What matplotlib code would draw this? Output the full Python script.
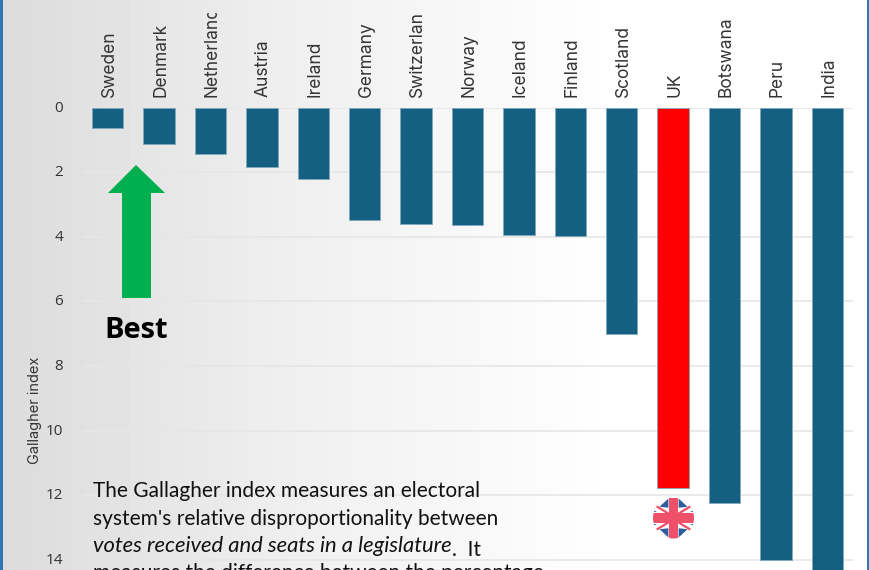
import numpy as np
import matplotlib
matplotlib.use('Agg')
import matplotlib.pyplot as plt
from matplotlib.patches import Circle, Polygon, Rectangle
from matplotlib.transforms import Bbox, ScaledTranslation

countries = ['Sweden', 'Denmark', 'Netherlands', 'Austria', 'Ireland', 'Germany', 'Switzerland',
             'Norway', 'Iceland', 'Finland', 'Scotland', 'UK', 'Botswana', 'Peru', 'India']
gallagher = [0.62, 1.13, 1.45, 1.85, 2.22, 3.47, 3.6, 3.65, 3.94, 3.98, 7.02, 11.79, 12.25, 14.0, 14.6]
y_ticks = [0, 2, 4, 6, 8, 10, 12, 14]
note_line1 = 'The Gallagher index measures an electoral'
note_line2 = "system's relative disproportionality between"
note_line3a = 'votes received and seats in a legislature'
note_line3b = '.  It'
note_line4 = 'measures the difference between the percentage'

W, H = 870, 570
fig = plt.figure(figsize=(W / 100, H / 100), dpi=100)

# fond en dégradé gris -> blanc
bg = fig.add_axes([0, 0, 1, 1], zorder=0)
grad = np.interp(np.arange(W), [0, 300, 620, W], [0.86, 0.94, 1.0, 1.0])
bg.imshow(grad[np.newaxis, :], cmap='gray', vmin=0, vmax=1, aspect='auto', extent=[0, W, H, 0])
bg.set_xlim(0, W)
bg.set_ylim(H, 0)
bg.axis('off')

# axes du graphique
left, right, top = 82, 853, 107.5
px_per_unit = 32.3
ax = fig.add_axes([left / W, 0, (right - left) / W, (H - top) / H], zorder=1)
ax.patch.set_alpha(0)
colors = ['#ff0000' if c == 'UK' else '#156082' for c in countries]
ax.bar(range(len(countries)), gallagher, width=0.61, color=colors, edgecolor='#7fa9bb', linewidth=0.6, zorder=3)
ax.set_xlim(-0.5, len(countries) - 0.5)
ax.set_ylim((H - top) / px_per_unit, 0)
ax.set_yticks(y_ticks)
ax.set_xticks(range(len(countries)))
ax.set_xticklabels(countries, rotation=90, fontsize=12.5, family='Inter', color='#333333')
ax.xaxis.tick_top()
ax.tick_params(axis='x', length=0, pad=7.5)
ax.tick_params(axis='y', length=0, pad=13.5, labelsize=11, labelcolor='#333333')
up = ScaledTranslation(0, 1.5 / 100, fig.dpi_scale_trans)
right_shift = ScaledTranslation(1.5 / 100, 0, fig.dpi_scale_trans)
for lab in ax.get_yticklabels():
    lab.set_family('Open Sans')
    lab.set_transform(lab.get_transform() + up)

# les étiquettes sont coupées en haut
clip = Bbox([[0, 0], [W, H - 13]])
for lab in ax.get_xticklabels():
    lab.set_transform(lab.get_transform() + right_shift)
    lab.set_clip_box(clip)
    lab.set_clip_on(True)
ax.grid(axis='y', color='#e6e6e6', linewidth=1.2, zorder=0)
ax.grid(axis='x', visible=False)
for s in ax.spines.values():
    s.set_visible(False)

fig.text(35 / W, 1 - 410 / H, 'Gallagher index', rotation=90, ha='center', va='center',
         fontsize=10.5, family='Inter', color='#333333', zorder=5)

# calque en pixels : flèche, drapeau, bordures
ov = fig.add_axes([0, 0, 1, 1], zorder=2)
ov.set_xlim(0, W)
ov.set_ylim(H, 0)
ov.axis('off')
ov.add_patch(Polygon([(136, 165), (165, 193), (151, 193), (151, 298), (122, 298), (122, 193), (108, 193)],
                     closed=True, color='#00b050', lw=0))
ov.text(136, 330, 'Best', ha='center', va='center', fontsize=21, fontweight='bold', family='Open Sans', color='black')

cx, cy, r = 673.5, 518, 20.5
disc = Circle((cx, cy), r, transform=ov.transData)
ov.add_patch(Circle((cx, cy), r, color='white', lw=0))
blues = [[(-0.68, -0.55), (-0.25, -0.95), (-0.25, -0.5)], [(0.68, -0.55), (0.25, -0.95), (0.25, -0.5)],
         [(-0.68, 0.55), (-0.25, 0.95), (-0.25, 0.5)], [(0.68, 0.55), (0.25, 0.95), (0.25, 0.5)],
         [(-0.98, -0.38), (-0.98, -0.28), (-0.8, -0.28)], [(0.98, -0.38), (0.98, -0.28), (0.8, -0.28)],
         [(-0.98, 0.38), (-0.98, 0.28), (-0.8, 0.28)], [(0.98, 0.38), (0.98, 0.28), (0.8, 0.28)]]
for tri in blues:
    p = Polygon([(cx + a * r, cy + b * r) for a, b in tri], closed=True, color='#2f5d9e', lw=0)
    ov.add_patch(p)
    p.set_clip_path(disc)
for sx, sy in [(-1, -1), (1, -1), (-1, 1), (1, 1)]:
    ln, = ov.plot([cx + sx * 0.25 * r, cx + sx * 0.88 * r], [cy + sy * 0.22 * r, cy + sy * 0.6 * r],
                  color='#ef5069', lw=1.6, solid_capstyle='butt')
    ln.set_clip_path(disc)
for rect in [Rectangle((cx - 0.22 * r, cy - r), 0.44 * r, 2 * r), Rectangle((cx - r, cy - 0.22 * r), 2 * r, 0.44 * r)]:
    rect.set_color('#ef5069')
    rect.set_linewidth(0)
    ov.add_patch(rect)
    rect.set_clip_path(disc)

note_kw = dict(fontsize=15, family='Lato', color='#111111', va='baseline', ha='left')
ov.text(93, 497, note_line1, **note_kw)
ov.text(93, 525, note_line2, **note_kw)
t3 = ov.text(93, 552, note_line3a, style='italic', **{**note_kw, 'fontsize': 15.8})
ov.annotate(note_line3b, xy=(1, 0), xycoords=t3, annotation_clip=False, **note_kw)
ov.text(93, 579, note_line4, clip_on=True, **note_kw)

ov.add_patch(Rectangle((0, 0), 3, H, color='#2e75b6', lw=0))
ov.add_patch(Rectangle((867, 0), 3, H, color='#2e75b6', lw=0))

fig.savefig('out.png', dpi=100)
